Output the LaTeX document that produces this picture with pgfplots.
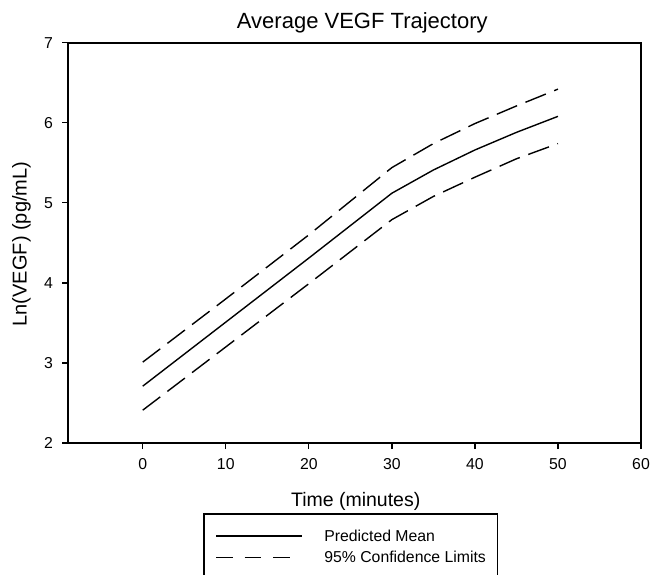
\documentclass[border=0pt]{standalone}
\usepackage{pgfplots}
\pgfplotsset{compat=1.18}
\usepackage{fontspec}
\setmainfont{Liberation Sans}

\pgfplotstableread{
x mean upper lower
0  2.71 3.01 2.41
10 3.51 3.80 3.20
20 4.31 4.60 3.99
30 5.12 5.44 4.79
35 5.41 5.74 5.08
40 5.66 5.99 5.32
45 5.88 6.21 5.55
50 6.08 6.42 5.74
}\vegf

\pgfplotsset{
  solidleg/.style={legend image code/.code={\draw[##1] (0pt,5.4pt) -- (85.7pt,5.4pt);}},
  dashleg/.style={legend image code/.code={\draw[##1, dash pattern=on 16.7pt off 11.7pt] (0pt,5.6pt) -- (73.5pt,5.6pt) (85.7pt,5.6pt);}},
}

\begin{document}
\begin{tikzpicture}
\path[use as bounding box] (-68pt,-131pt) rectangle (590pt,443pt);
\begin{axis}[
  at={(0pt,0pt)}, anchor=south west,
  scale only axis, width=573pt, height=400.3pt,
  xmin=-9, xmax=60, ymin=2, ymax=7,
  xtick={0,10,...,60}, ytick={2,...,7},
  tick align=outside, xtick pos=bottom, ytick pos=left,
  major tick length=6pt,
  axis line style={line width=1.6pt},
  every tick/.style={black,line width=1.3pt},
  tick label style={font=\fontsize{15.8}{18}\selectfont, inner sep=0pt},
  /pgf/number format/assume math mode=true,
  yticklabel style={xshift=-9pt},
  xticklabel style={yshift=-9pt},
  every axis title shift=0pt,
  title={Average VEGF Trajectory},
  title style={at={(0.5136,1.036)}, anchor=base, font=\fontsize{22}{26}\selectfont, inner sep=0pt},
  xlabel={Time (minutes)},
  xlabel style={at={(0.5021,-0.1574)}, anchor=base, font=\fontsize{19.5}{23}\selectfont, inner sep=0pt},
  ylabel={Ln(VEGF) (pg/mL)},
  ylabel style={at={(-0.0724,0.497)}, anchor=base, font=\fontsize{20}{24}\selectfont, inner sep=0pt},
  legend style={at={(0.2361,-0.1756)}, anchor=north west, draw=black, line width=1.3pt,
    inner xsep=11.7pt, inner ysep=16pt, font=\fontsize{15.8}{19}\selectfont,
    nodes={inner sep=0pt, anchor=base west}, row sep=8.5pt,
    /tikz/every odd column/.append style={column sep=21.6pt}},
  legend cell align=left,
]
\addplot[black, line width=1.4pt, line join=round, solidleg]
  table[x=x, y=mean] {\vegf};
\addlegendentry{Predicted Mean}
\addplot[black, line width=1.4pt, dash pattern=on 22pt off 9pt, dashleg]
  table[x=x, y=upper] {\vegf};
\addlegendentry{95\% Confidence Limits}
\addplot[black, line width=1.4pt, dash pattern=on 22pt off 9pt, forget plot]
  table[x=x, y=lower] {\vegf};
\end{axis}
\end{tikzpicture}
\end{document}
